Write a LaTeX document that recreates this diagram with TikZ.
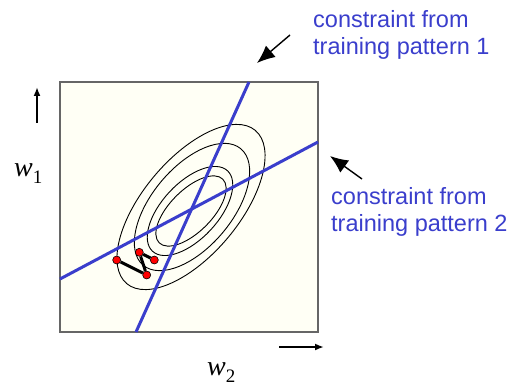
\documentclass[tikz,border=0pt]{standalone}
\usepackage{fontspec}
\setmainfont{Liberation Sans}
\newfontfamily\wfont{Liberation Serif}
\usetikzlibrary{arrows.meta}
\definecolor{cnstblue}{RGB}{58,62,204}
\definecolor{boxfill}{RGB}{255,255,245}
\newcommand{\wsub}[1]{\raisebox{-7pt}{\upshape\fontsize{19}{19}\selectfont #1}}
\tikzset{
  plotbox/.style ={draw=black!60, fill=boxfill, line width=1.4pt},
  cnstline/.style={draw=cnstblue, line width=3pt},
  contour/.style ={draw=black, line width=0.9pt},
  iterpt/.style  ={draw=black, circle, fill=red, minimum size=8pt,
                   inner sep=0pt, line width=0.6pt},
  iterln/.style  ={line width=3pt},
  cnstlbl/.style ={text=cnstblue, font=\fontsize{23.5}{27}\selectfont,
                   align=left, anchor=base west, inner sep=0pt},
  wlbl/.style    ={font=\wfont\fontsize{28}{30}\selectfont\itshape,
                   anchor=base west, inner sep=0pt},
  ptr/.style     ={-{Latex[length=18pt, width=15pt]}, line width=1.4pt},
  axarr/.style   ={-{Latex[length=9pt, width=7pt]}, line width=2.2pt},
}
\begin{document}
\begin{tikzpicture}[x=1pt, y=1pt]
  \useasboundingbox (0,0) rectangle (510,385);
  % error surface
  \draw[plotbox] (60,53) rectangle (318,303);
  \draw[contour, rotate around={50:(191,178)}] (191,178) ellipse [x radius=100, y radius=48];
  \draw[contour, rotate around={50:(192,178)}] (192,178) ellipse [x radius=76, y radius=40];
  \draw[contour, rotate around={47:(190,174)}] (190,174) ellipse [x radius=55, y radius=28];
  \draw[contour, rotate around={45:(191,174)}] (191,174) ellipse [x radius=45, y radius=21];
  % constraints
  \coordinate (c1a) at (249,303);
  \coordinate (c1b) at (136,53);
  \coordinate (c2a) at (60,106);
  \coordinate (c2b) at (318,243);
  \draw[cnstline] (c1a) -- (c1b);
  \draw[cnstline] (c2a) -- (c2b);
  % weight updates
  \node[iterpt] (p1) at (116.7,125) {};
  \node[iterpt] (p2) at (146.7,110) {};
  \node[iterpt] (p3) at (139.3,132.7) {};
  \node[iterpt] (p4) at (154.3,125) {};
  \draw[iterln] (p1) -- (p2) -- (p3) -- (p4);
  % labels
  \node[cnstlbl] (t1) at (313,330) {constraint from\\training pattern 1};
  \node[cnstlbl] (t2) at (331,153) {constraint from\\training pattern 2};
  \coordinate (a1s) at (290,350);
  \coordinate (a1e) at (257,322);
  \coordinate (a2s) at (362,206);
  \coordinate (a2e) at (330,229);
  \draw[ptr] (a1s) -- (a1e);
  \draw[ptr] (a2s) -- (a2e);
  \node[wlbl] (w1) at (14,208) {w\wsub{1}};
  \node[wlbl] (w2) at (207,10) {w\wsub{2}};
  \coordinate (up0) at (37,262);
  \coordinate (up1) at (37,298);
  \coordinate (rt0) at (279,38);
  \coordinate (rt1) at (324,38);
  \draw[axarr] (up0) -- (up1);
  \draw[axarr] (rt0) -- (rt1);
\end{tikzpicture}
\end{document}
